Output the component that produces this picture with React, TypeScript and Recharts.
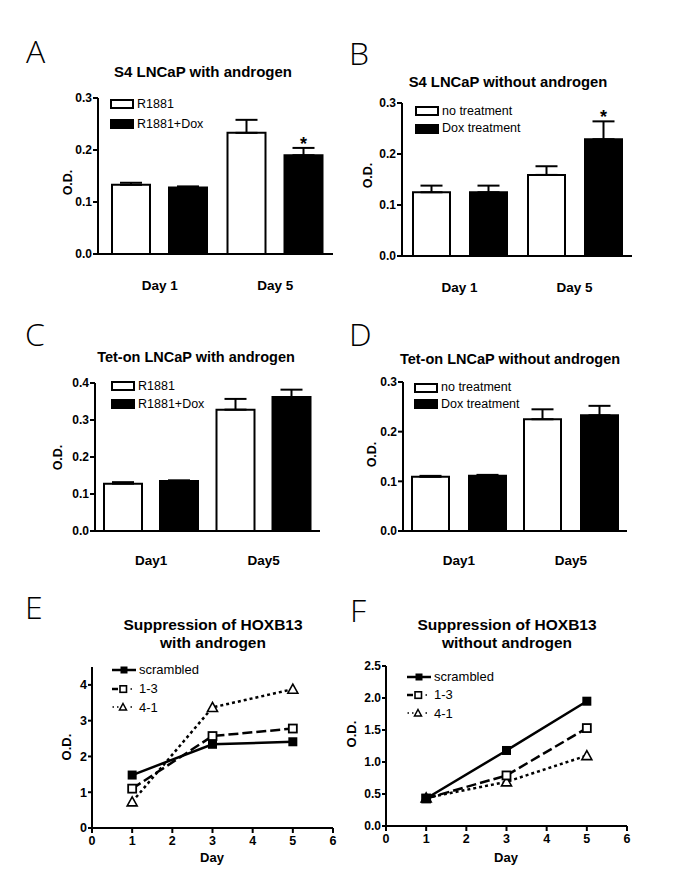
import React from 'react';
import { BarChart, Bar, XAxis, YAxis, ErrorBar, LabelList, Legend, LineChart, Line } from 'recharts';

const FONT = '"Liberation Sans", Arial, Helvetica, sans-serif';
const LETTER_FONT = '"Open Sans", "Noto Sans", "DejaVu Sans", sans-serif';

// ---------- bar panels (A-D) ----------
const dayLabelsAB = ['Day 1', 'Day 5'];
const dayLabelsCD = ['Day1', 'Day5'];

const aR1881 = [0.133, 0.233];
const aR1881Err = [0.004, 0.025];
const aR1881Dox = [0.128, 0.19];
const aR1881DoxErr = [0.002, 0.014];
const aSig = ['', '*'];

const bNoTreat = [0.125, 0.159];
const bNoTreatErr = [0.013, 0.017];
const bDox = [0.125, 0.229];
const bDoxErr = [0.013, 0.035];
const bSig = ['', '*'];

const cR1881 = [0.128, 0.328];
const cR1881Err = [0.004, 0.029];
const cR1881Dox = [0.135, 0.362];
const cR1881DoxErr = [0.002, 0.02];
const cSig = ['', ''];

const dNoTreat = [0.109, 0.225];
const dNoTreatErr = [0.002, 0.02];
const dDox = [0.111, 0.233];
const dDoxErr = [0.002, 0.019];
const dSig = ['', ''];

const legendAC = ['R1881', 'R1881+Dox'];
const legendBD = ['no treatment', 'Dox treatment'];

const ticks03 = [0, 0.1, 0.2, 0.3];
const ticks04 = [0, 0.1, 0.2, 0.3, 0.4];

// ---------- line panels (E-F) ----------
const days = [1, 3, 5];
const eScrambled = [1.48, 2.34, 2.41];
const e13 = [1.1, 2.57, 2.78];
const e41 = [0.73, 3.37, 3.88];
const fScrambled = [0.43, 1.18, 1.95];
const f13 = [0.43, 0.79, 1.53];
const f41 = [0.44, 0.69, 1.1];
const lineNames = ['scrambled', '1-3', '4-1'];
const xTicksDay = [0, 1, 2, 3, 4, 5, 6];
const eYTicks = [0, 1, 2, 3, 4];
const fYTicks = [0, 0.5, 1, 1.5, 2, 2.5];

const buildBarData = (labels: string[], ctrl: number[], ctrlErr: number[], dox: number[], doxErr: number[], sig: string[]) =>
  labels.map((day, i) => ({
    day,
    ctrl: ctrl[i],
    ctrlErr: [0, ctrlErr[i]],
    dox: dox[i],
    doxErr: [0, doxErr[i]],
    sig: sig[i],
  }));

const buildLineData = (s: number[], m13: number[], m41: number[]) =>
  days.map((day, i) => ({ day, s: s[i], m13: m13[i], m41: m41[i] }));

const dataA = buildBarData(dayLabelsAB, aR1881, aR1881Err, aR1881Dox, aR1881DoxErr, aSig);
const dataB = buildBarData(dayLabelsAB, bNoTreat, bNoTreatErr, bDox, bDoxErr, bSig);
const dataC = buildBarData(dayLabelsCD, cR1881, cR1881Err, cR1881Dox, cR1881DoxErr, cSig);
const dataD = buildBarData(dayLabelsCD, dNoTreat, dNoTreatErr, dDox, dDoxErr, dSig);
const dataE = buildLineData(eScrambled, e13, e41);
const dataF = buildLineData(fScrambled, f13, f41);

type Rect = { left: number; top: number; width: number; height: number };
type Plot = { x0: number; x1: number; y0: number; y1: number };

const axisStroke = { stroke: '#000', strokeWidth: 2 };

const BarLegend = ({ names, rowGap }: { names: string[]; rowGap: number }) => (
  <div style={{ fontFamily: FONT, fontSize: 12.5, color: '#000' }}>
    {names.map((n, i) => (
      <div key={n} style={{ display: 'flex', alignItems: 'center', height: rowGap, whiteSpace: 'nowrap' }}>
        <svg width={24} height={10} style={{ display: 'block' }}>
          <rect x={1} y={1} width={22} height={8} fill={i === 0 ? '#fff' : '#000'} stroke="#000" strokeWidth={2} />
        </svg>
        <span style={{ marginLeft: 3, lineHeight: 1 }}>{n}</span>
      </div>
    ))}
  </div>
);

const makeStar = (values: number[], errs: number[]) => (props: any) => {
  const vb = props.viewBox || {};
  const x = props.x ?? vb.x;
  const y = props.y ?? vb.y;
  const w = props.width ?? vb.width;
  const h = props.height ?? vb.height;
  const idx = props.index;
  const label = props.value;
  if (!label || idx === undefined) return null;
  const pxPerUnit = h / values[idx];
  const top = y - errs[idx] * pxPerUnit;
  return (
    <text key={`star-${idx}`} x={x + w / 2} y={top + 2} textAnchor="middle" fontFamily={FONT} fontWeight="bold" fontSize={18} fill="#000">
      {label}
    </text>
  );
};

type BarPanelProps = {
  data: any[];
  wrap: Rect;
  plot: Plot;
  yMax: number;
  yTicks: number[];
  barSize: number;
  barGap: number;
  padLeft: number;
  tickMargin: number;
  legendNames: string[];
  legendAt: { x: number; y: number; gap: number };
  doxVals: number[];
  doxErrs: number[];
};

function BarPanel(p: BarPanelProps) {
  const yW = 50;
  const xH = 45;
  const margin = {
    left: p.plot.x0 - p.wrap.left - yW,
    top: p.plot.y0 - p.wrap.top,
    right: p.wrap.left + p.wrap.width - p.plot.x1,
    bottom: p.wrap.top + p.wrap.height - p.plot.y1 - xH,
  };
  return (
    <div style={{ position: 'absolute', left: p.wrap.left, top: p.wrap.top }}>
      <BarChart width={p.wrap.width} height={p.wrap.height} data={p.data} margin={margin} barGap={p.barGap}>
        <XAxis
          dataKey="day"
          height={xH}
          axisLine={axisStroke}
          tickLine={false}
          tickSize={0}
          tickMargin={p.tickMargin}
          padding={{ left: p.padLeft, right: 0 }}
          tick={{ fill: '#000', fontSize: 13.5, fontWeight: 'bold', fontFamily: FONT }}
        />
        <YAxis
          width={yW}
          domain={[0, p.yMax]}
          ticks={p.yTicks}
          allowDataOverflow
          tickFormatter={(v: number) => v.toFixed(1)}
          axisLine={axisStroke}
          tickLine={axisStroke}
          tickSize={5}
          tickMargin={1}
          tick={{ fill: '#000', fontSize: 12, fontWeight: 'bold', fontFamily: FONT }}
        />
        <Legend
          layout="vertical"
          verticalAlign="middle"
          align="center"
          wrapperStyle={{ left: p.legendAt.x - p.wrap.left, top: p.legendAt.y - p.legendAt.gap / 2 - p.wrap.top, width: 'auto' }}
          content={() => <BarLegend names={p.legendNames} rowGap={p.legendAt.gap} />}
        />
        <Bar dataKey="ctrl" name={p.legendNames[0]} fill="#fff" stroke="#000" strokeWidth={2} barSize={p.barSize} isAnimationActive={false}>
          <ErrorBar dataKey="ctrlErr" width={11} stroke="#000" strokeWidth={2} direction="y" />
        </Bar>
        <Bar dataKey="dox" name={p.legendNames[1]} fill="#000" stroke="#000" strokeWidth={2} barSize={p.barSize} isAnimationActive={false}>
          <ErrorBar dataKey="doxErr" width={11} stroke="#000" strokeWidth={2} direction="y" />
          <LabelList dataKey="sig" content={makeStar(p.doxVals, p.doxErrs)} />
        </Bar>
      </BarChart>
    </div>
  );
}

// ---------- line panel ----------
const FilledSquare = (props: any) => {
  const { cx, cy, index } = props;
  if (cx == null || cy == null) return <g key={`fs-${index}`} />;
  return <rect key={`fs-${index}`} x={cx - 4.5} y={cy - 4.5} width={9} height={9} fill="#000" />;
};
const OpenSquare = (props: any) => {
  const { cx, cy, index } = props;
  if (cx == null || cy == null) return <g key={`os-${index}`} />;
  return <rect key={`os-${index}`} x={cx - 4} y={cy - 4} width={8} height={8} fill="#fff" stroke="#000" strokeWidth={1.8} />;
};
const OpenTriangle = (props: any) => {
  const { cx, cy, index } = props;
  if (cx == null || cy == null) return <g key={`ot-${index}`} />;
  return (
    <path
      key={`ot-${index}`}
      d={`M${cx},${cy - 5} L${cx + 5},${cy + 4} L${cx - 5},${cy + 4} Z`}
      fill="#fff"
      stroke="#000"
      strokeWidth={1.6}
    />
  );
};

const LineLegend = ({ gap }: { gap: number }) => {
  const icons = [
    <svg width={24} height={10} style={{ display: 'block' }}>
      <line x1={0} y1={5} x2={24} y2={5} stroke="#000" strokeWidth={2.5} />
      <rect x={8.5} y={1.5} width={7} height={7} fill="#000" />
    </svg>,
    <svg width={24} height={10} style={{ display: 'block' }}>
      <line x1={0} y1={5} x2={6} y2={5} stroke="#000" strokeWidth={2.5} />
      <rect x={8} y={1.8} width={6.5} height={6.5} fill="#fff" stroke="#000" strokeWidth={1.6} />
      <line x1={18.5} y1={5} x2={20} y2={5} stroke="#000" strokeWidth={1.5} />
    </svg>,
    <svg width={24} height={10} style={{ display: 'block' }}>
      <line x1={0.5} y1={5} x2={2} y2={5} stroke="#000" strokeWidth={1.5} />
      <line x1={5} y1={5} x2={6.5} y2={5} stroke="#000" strokeWidth={1.5} />
      <path d="M11,1.5 L14.5,8 L7.5,8 Z" fill="#fff" stroke="#000" strokeWidth={1.5} />
      <line x1={18.5} y1={5} x2={20} y2={5} stroke="#000" strokeWidth={1.5} />
    </svg>,
  ];
  return (
    <div style={{ fontFamily: FONT, fontSize: 13, color: '#000' }}>
      {lineNames.map((n, i) => (
        <div key={n} style={{ display: 'flex', alignItems: 'center', height: gap, whiteSpace: 'nowrap' }}>
          {icons[i]}
          <span style={{ marginLeft: 3, lineHeight: 1 }}>{n}</span>
        </div>
      ))}
    </div>
  );
};

type LinePanelProps = {
  data: any[];
  wrap: Rect;
  plot: Plot;
  yMax: number;
  yTicks: number[];
  yFmt: (v: number) => string;
  yFont: number;
  legendAt: { x: number; y: number; gap: number };
};

function LinePanel(p: LinePanelProps) {
  const yW = 40;
  const xH = 30;
  const margin = {
    left: p.plot.x0 - p.wrap.left - yW,
    top: p.plot.y0 - p.wrap.top,
    right: p.wrap.left + p.wrap.width - p.plot.x1,
    bottom: p.wrap.top + p.wrap.height - p.plot.y1 - xH,
  };
  return (
    <div style={{ position: 'absolute', left: p.wrap.left, top: p.wrap.top }}>
      <LineChart width={p.wrap.width} height={p.wrap.height} data={p.data} margin={margin}>
        <XAxis
          type="number"
          dataKey="day"
          domain={[0, 6]}
          ticks={xTicksDay}
          allowDataOverflow
          height={xH}
          axisLine={axisStroke}
          tickLine={axisStroke}
          tickSize={5}
          tickMargin={3}
          tick={{ fill: '#000', fontSize: 12.5, fontWeight: 'bold', fontFamily: FONT }}
        />
        <YAxis
          type="number"
          width={yW}
          domain={[0, p.yMax]}
          ticks={p.yTicks}
          allowDataOverflow
          tickFormatter={p.yFmt}
          axisLine={axisStroke}
          tickLine={axisStroke}
          tickSize={4}
          tickMargin={1}
          tick={{ fill: '#000', fontSize: p.yFont, fontWeight: 'bold', fontFamily: FONT }}
        />
        <Legend
          layout="vertical"
          verticalAlign="middle"
          align="center"
          wrapperStyle={{ left: p.legendAt.x - p.wrap.left, top: p.legendAt.y - p.legendAt.gap / 2 - p.wrap.top, width: 'auto' }}
          content={() => <LineLegend gap={p.legendAt.gap} />}
        />
        <Line dataKey="m41" name="4-1" stroke="#000" strokeWidth={2.5} strokeDasharray="3 3" dot={OpenTriangle} activeDot={false} isAnimationActive={false} />
        <Line dataKey="m13" name="1-3" stroke="#000" strokeWidth={2.5} strokeDasharray="10 4" dot={OpenSquare} activeDot={false} isAnimationActive={false} />
        <Line dataKey="s" name="scrambled" stroke="#000" strokeWidth={2.5} dot={FilledSquare} activeDot={false} isAnimationActive={false} />
      </LineChart>
    </div>
  );
}

// ---------- static text helpers ----------
const CText = ({ cx, cy, size, lh, children }: { cx: number; cy: number; size: number; lh?: number; children: React.ReactNode }) => {
  const L = lh ?? Math.round(size * 1.2);
  return (
    <div
      style={{
        position: 'absolute',
        left: cx - 200,
        top: cy - L / 2,
        width: 400,
        height: L,
        lineHeight: `${L}px`,
        textAlign: 'center',
        fontSize: size,
        fontWeight: 'bold',
        fontFamily: FONT,
        color: '#000',
        whiteSpace: 'nowrap',
      }}
    >
      {children}
    </div>
  );
};

const VText = ({ cx, cy, size, children }: { cx: number; cy: number; size: number; children: React.ReactNode }) => {
  const L = Math.round(size * 1.2);
  return (
    <div
      style={{
        position: 'absolute',
        left: cx - 40,
        top: cy - L / 2,
        width: 80,
        height: L,
        lineHeight: `${L}px`,
        textAlign: 'center',
        fontSize: size,
        fontWeight: 'bold',
        fontFamily: FONT,
        color: '#000',
        whiteSpace: 'nowrap',
        transform: 'rotate(-90deg)',
        transformOrigin: '50% 50%',
      }}
    >
      {children}
    </div>
  );
};

const Letter = ({ x, cy, children }: { x: number; cy: number; children: React.ReactNode }) => (
  <div
    style={{
      position: 'absolute',
      left: x,
      top: cy - 20,
      height: 40,
      lineHeight: '40px',
      fontSize: 32,
      fontWeight: 300,
      fontFamily: LETTER_FONT,
      color: '#000',
    }}
  >
    {children}
  </div>
);

export default function App() {
  return (
    <div style={{ position: 'absolute', left: 0, top: 0, width: 685, height: 893, background: '#fff', overflow: 'hidden' }}>
      {/* Panel letters */}
      <Letter x={26} cy={51}>A</Letter>
      <Letter x={349} cy={53}>B</Letter>
      <Letter x={25} cy={334}>C</Letter>
      <Letter x={349} cy={334}>D</Letter>
      <Letter x={25} cy={607}>E</Letter>
      <Letter x={350} cy={610}>F</Letter>

      {/* Titles */}
      <CText cx={203} cy={72} size={15}>S4 LNCaP with androgen</CText>
      <CText cx={508} cy={82} size={14.8}>S4 LNCaP without androgen</CText>
      <CText cx={196} cy={357} size={14.5}>Tet-on LNCaP with androgen</CText>
      <CText cx={510} cy={359} size={14.5}>Tet-on LNCaP without androgen</CText>
      <CText cx={213} cy={625} size={15.5} lh={18}>Suppression of HOXB13</CText>
      <CText cx={213} cy={643} size={15.5} lh={18}>with androgen</CText>
      <CText cx={507} cy={625} size={15.5} lh={18}>Suppression of HOXB13</CText>
      <CText cx={507} cy={643} size={15.5} lh={18}>without androgen</CText>

      {/* Y axis titles */}
      <VText cx={68} cy={182} size={12.5}>O.D.</VText>
      <VText cx={368} cy={175} size={12.5}>O.D.</VText>
      <VText cx={58} cy={457} size={12.5}>O.D.</VText>
      <VText cx={372} cy={454} size={12.5}>O.D.</VText>
      <VText cx={67} cy={747} size={13}>O.D.</VText>
      <VText cx={352} cy={734} size={13}>O.D.</VText>

      {/* X axis titles for line panels */}
      <CText cx={212} cy={858} size={13}>Day</CText>
      <CText cx={506} cy={858} size={13}>Day</CText>

      <BarPanel
        data={dataA}
        wrap={{ left: 0, top: 60, width: 342, height: 250 }}
        plot={{ x0: 98, x1: 333, y0: 98, y1: 254 }}
        yMax={0.3}
        yTicks={ticks03}
        barSize={38}
        barGap={19}
        padLeft={4}
        tickMargin={26}
        legendNames={legendAC}
        legendAt={{ x: 110, y: 104, gap: 20 }}
        doxVals={aR1881Dox}
        doxErrs={aR1881DoxErr}
      />
      <BarPanel
        data={dataB}
        wrap={{ left: 342, top: 60, width: 343, height: 250 }}
        plot={{ x0: 402, x1: 632, y0: 103, y1: 256 }}
        yMax={0.3}
        yTicks={ticks03}
        barSize={37}
        barGap={20}
        padLeft={0}
        tickMargin={26}
        legendNames={legendBD}
        legendAt={{ x: 415, y: 111, gap: 17.7 }}
        doxVals={bDox}
        doxErrs={bDoxErr}
      />
      <BarPanel
        data={dataC}
        wrap={{ left: 0, top: 340, width: 342, height: 240 }}
        plot={{ x0: 95, x1: 320, y0: 383, y1: 531 }}
        yMax={0.4}
        yTicks={ticks04}
        barSize={38}
        barGap={18}
        padLeft={0}
        tickMargin={24}
        legendNames={legendAC}
        legendAt={{ x: 111, y: 386, gap: 18 }}
        doxVals={cR1881Dox}
        doxErrs={cR1881DoxErr}
      />
      <BarPanel
        data={dataD}
        wrap={{ left: 342, top: 340, width: 343, height: 240 }}
        plot={{ x0: 403, x1: 627, y0: 382, y1: 531 }}
        yMax={0.3}
        yTicks={ticks03}
        barSize={37}
        barGap={20}
        padLeft={0}
        tickMargin={24}
        legendNames={legendBD}
        legendAt={{ x: 414, y: 387.7, gap: 16.7 }}
        doxVals={dDox}
        doxErrs={dDoxErr}
      />
      <LinePanel
        data={dataE}
        wrap={{ left: 0, top: 650, width: 342, height: 243 }}
        plot={{ x0: 92, x1: 333, y0: 667, y1: 828 }}
        yMax={4.5}
        yTicks={eYTicks}
        yFmt={(v: number) => String(v)}
        yFont={12.5}
        legendAt={{ x: 112, y: 670, gap: 18.6 }}
      />
      <LinePanel
        data={dataF}
        wrap={{ left: 342, top: 650, width: 343, height: 243 }}
        plot={{ x0: 386, x1: 627, y0: 666, y1: 826 }}
        yMax={2.5}
        yTicks={fYTicks}
        yFmt={(v: number) => v.toFixed(1)}
        yFont={12}
        legendAt={{ x: 407, y: 676.7, gap: 18.3 }}
      />
    </div>
  );
}
